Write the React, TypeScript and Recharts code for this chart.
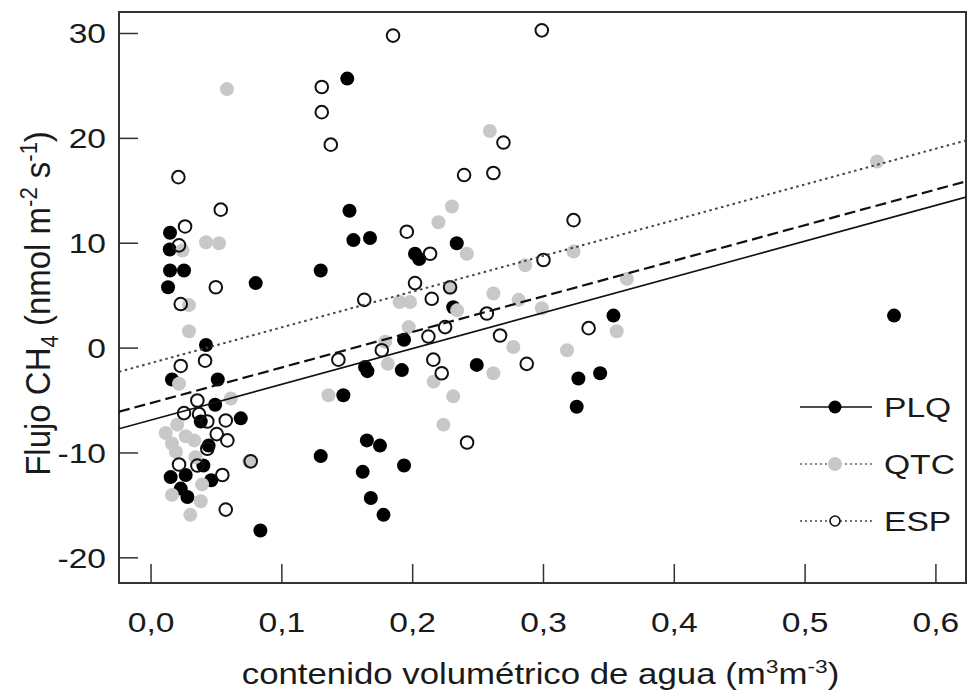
import React from 'react';
import { ScatterChart, Scatter, XAxis, YAxis, ReferenceArea } from 'recharts';

const FONT = '"Liberation Sans", Arial, Helvetica, sans-serif';
const SX = 1.2;

const xTicks = [0, 0.1, 0.2, 0.3, 0.4, 0.5, 0.6];
const yTicks = [-20, -10, 0, 10, 20, 30];
const xDomain: [number, number] = [-0.0245, 0.623];
const yDomain: [number, number] = [-22.4, 32.05];

const plqPoints: [number, number][] = [
  [0.150, 25.7], [0.0145, 11.0], [0.0143, 9.4], [0.0145, 7.4], [0.0252, 7.4], [0.013, 5.8],
  [0.080, 6.2], [0.042, 0.3], [0.016, -3.0], [0.051, -3.0], [0.049, -5.4], [0.0686, -6.7],
  [0.038, -7.0], [0.044, -9.3], [0.040, -11.2], [0.015, -12.3], [0.0265, -12.1], [0.046, -12.6],
  [0.0227, -13.4], [0.0278, -14.2], [0.0836, -17.4], [0.1517, 13.1], [0.1547, 10.3], [0.1674, 10.5],
  [0.1297, 7.4], [0.2018, 9.0], [0.205, 8.5], [0.2337, 10.0], [0.231, 3.9], [0.1934, 0.8],
  [0.1636, -1.8], [0.1654, -2.2], [0.1917, -2.1], [0.147, -4.5], [0.165, -8.8], [0.175, -9.3],
  [0.1297, -10.3], [0.1934, -11.2], [0.1618, -11.8], [0.168, -14.3], [0.1777, -15.9], [0.249, -1.6],
  [0.3535, 3.1], [0.3267, -2.9], [0.3433, -2.4], [0.3254, -5.6], [0.568, 3.1],
];

const qtcPoints: [number, number][] = [
  [0.058, 24.7], [0.042, 10.1], [0.052, 10.0], [0.024, 9.3], [0.029, 4.1], [0.029, 1.6],
  [0.0214, -3.4], [0.061, -4.8], [0.0112, -8.1], [0.02, -7.3], [0.016, -9.1], [0.0265, -8.4],
  [0.033, -8.8], [0.019, -9.9], [0.034, -10.4], [0.039, -13.0], [0.016, -14.0], [0.038, -14.6],
  [0.030, -15.9], [0.075, -10.8], [0.23, 13.5], [0.2197, 12.0], [0.19, 4.4], [0.198, 4.4],
  [0.197, 2.0], [0.2286, 5.7], [0.234, 3.6], [0.179, 0.6], [0.181, -1.5], [0.216, -3.2],
  [0.1356, -4.5], [0.231, -4.6], [0.2235, -7.3], [0.2414, 9.0], [0.2617, 5.2], [0.281, 4.6],
  [0.2987, 3.8], [0.323, 9.2], [0.286, 7.9], [0.277, 0.1], [0.318, -0.2], [0.356, 1.6],
  [0.3637, 6.6], [0.2617, -2.4], [0.259, 20.7], [0.555, 17.8],
];

const espPoints: [number, number][] = [
  [0.185, 29.8], [0.2987, 30.3], [0.1305, 24.9], [0.1305, 22.5], [0.1374, 19.4], [0.2694, 19.6],
  [0.2393, 16.5], [0.2617, 16.7], [0.0209, 16.3], [0.0533, 13.2], [0.026, 11.6], [0.0214, 9.8],
  [0.0495, 5.8], [0.0227, 4.2], [0.0227, -1.7], [0.0413, -1.2], [0.0354, -5.0], [0.0252, -6.2],
  [0.0367, -6.3], [0.043, -7.0], [0.0571, -6.9], [0.0502, -8.2], [0.0583, -8.8], [0.043, -9.6],
  [0.0214, -11.1], [0.0354, -11.2], [0.0545, -12.1], [0.0762, -10.8], [0.0571, -15.4], [0.1955, 11.1],
  [0.2133, 9.0], [0.2018, 6.2], [0.163, 4.6], [0.2146, 4.7], [0.2248, 2.0], [0.212, 1.1],
  [0.1764, -0.2], [0.1432, -1.1], [0.2158, -1.1], [0.2222, -2.4], [0.323, 12.2], [0.30, 8.4],
  [0.2286, 5.8], [0.2567, 3.3], [0.2668, 1.2], [0.3345, 1.9], [0.2872, -1.5], [0.2416, -9.0],
];

// regression lines: [x0, y0, x1, y1]
const fitSolid = [-0.0245, -7.7, 0.623, 14.4];
const fitDashed = [-0.0245, -6.07, 0.623, 15.9];
const fitDotted = [-0.0245, -2.26, 0.623, 19.8];

const seriesNames = ['PLQ', 'QTC', 'ESP'];

const toObjs = (pts: [number, number][]) => pts.map(([x, y]) => ({ x, y }));
const toSeg = (s: number[]) => [{ x: s[0], y: s[1] }, { x: s[2], y: s[3] }];

const fmt = (v: number) => v.toFixed(1).replace('.', ',');

const XTick = (props: any) => {
  const { x, y, payload } = props;
  return (
    <g>
      <line x1={x} y1={y} x2={x} y2={y - 19} stroke="#333" strokeWidth={1.5} />
      <text transform={`translate(${x},${y + 49}) scale(${SX},1)`} textAnchor="middle" fontSize={28} fontFamily={FONT} fill="#1a1a1a">
        {fmt(payload.value)}
      </text>
    </g>
  );
};

const YTick = (props: any) => {
  const { x, y, payload } = props;
  return (
    <g>
      <line x1={x} y1={y} x2={x + 19} y2={y} stroke="#333" strokeWidth={1.5} />
      <text transform={`translate(${x - 13},${y + 10}) scale(${SX},1)`} textAnchor="end" fontSize={28} fontFamily={FONT} fill="#1a1a1a">
        {String(payload.value)}
      </text>
    </g>
  );
};

const XLabel = (props: any) => {
  const vb = props.viewBox || { x: 119, y: 583, width: 847 };
  const cx = vb.x + vb.width / 2 - 2;
  return (
    <text transform={`translate(${cx},${vb.y + 101}) scale(${SX},1)`} textAnchor="middle" fontSize={29} fontFamily={FONT} fill="#1a1a1a">
      contenido volumétrico de agua (m<tspan dy={-11} fontSize={19}>3</tspan><tspan dy={11}>m</tspan><tspan dy={-11} fontSize={19}>-3</tspan><tspan dy={11}>)</tspan>
    </text>
  );
};

const YLabel = (props: any) => {
  const vb = props.viewBox || { x: 0, y: 12, height: 571 };
  const cy = vb.y + vb.height / 2 + 6;
  return (
    <text transform={`translate(50,${cy}) rotate(-90) scale(1,1.05)`} textAnchor="middle" fontSize={33} fontFamily={FONT} fill="#1a1a1a">
      Flujo CH<tspan dy={8} fontSize={22}>4</tspan><tspan dy={-8}> (nmol m</tspan><tspan dy={-12} fontSize={22}>-2</tspan><tspan dy={12}> s</tspan><tspan dy={-12} fontSize={22}>-1</tspan><tspan dy={12}>)</tspan>
    </text>
  );
};

const BlackDot = (p: any) => <circle cx={p.cx} cy={p.cy} r={7} fill="#000" />;
const GrayDot = (p: any) => <circle cx={p.cx} cy={p.cy} r={7} fill="#c8c8c8" />;
const OpenDot = (p: any) => <circle cx={p.cx} cy={p.cy} r={6.3} fill="none" stroke="#111" strokeWidth={2} />;
const NoDot = () => <g />;

const Legend = () => {
  const rows = [
    { y: 407, line: { stroke: '#111', strokeWidth: 1.6 }, marker: <circle cx={835} cy={407} r={6.5} fill="#000" /> },
    { y: 464, line: { stroke: '#666', strokeWidth: 1.6, strokeDasharray: '2 3' }, marker: <circle cx={835} cy={464} r={7} fill="#c8c8c8" /> },
    { y: 521, line: { stroke: '#444', strokeWidth: 1.6, strokeDasharray: '2 3' }, marker: <circle cx={835} cy={521} r={5} fill="#fff" stroke="#111" strokeWidth={1.6} /> },
  ];
  return (
    <svg width={967} height={696} style={{ position: 'absolute', left: 0, top: 0, pointerEvents: 'none' }}>
      {rows.map((r, i) => (
        <g key={i}>
          <line x1={800} y1={r.y} x2={872} y2={r.y} {...r.line} />
          {r.marker}
          <text transform={`translate(884,${r.y + 10}) scale(${SX},1)`} fontSize={28} fontFamily={FONT} fill="#1a1a1a">
            {seriesNames[i]}
          </text>
        </g>
      ))}
    </svg>
  );
};

export default function App() {
  return (
    <div style={{ position: 'absolute', left: 0, top: 0, width: 967, height: 696, background: '#fff' }}>
      <ScatterChart width={967} height={696} margin={{ top: 12, right: 1, bottom: 0, left: 0 }}>
        <XAxis
          type="number"
          dataKey="x"
          domain={xDomain}
          ticks={xTicks}
          allowDataOverflow
          height={113}
          axisLine={false}
          tickLine={false}
          tickSize={0}
          tickMargin={0}
          tick={<XTick />}
          label={<XLabel />}
        />
        <YAxis
          type="number"
          dataKey="y"
          domain={yDomain}
          ticks={yTicks}
          allowDataOverflow
          width={119}
          axisLine={false}
          tickLine={false}
          tickSize={0}
          tickMargin={0}
          tick={<YTick />}
          label={<YLabel />}
        />
        <ReferenceArea x1={xDomain[0]} x2={xDomain[1]} y1={yDomain[0]} y2={yDomain[1]} fill="none" stroke="#333" strokeWidth={2} ifOverflow="visible" />
        <Scatter name="PLQ" data={toObjs(plqPoints)} shape={<BlackDot />} isAnimationActive={false} />
        <Scatter name="QTC" data={toObjs(qtcPoints)} shape={<GrayDot />} isAnimationActive={false} />
        <Scatter name="ESP" data={toObjs(espPoints)} shape={<OpenDot />} isAnimationActive={false} />
        <Scatter data={toSeg(fitSolid)} line={{ stroke: '#111', strokeWidth: 1.6 }} shape={<NoDot />} isAnimationActive={false} />
        <Scatter data={toSeg(fitDashed)} line={{ stroke: '#111', strokeWidth: 2.2, strokeDasharray: '11 5' }} shape={<NoDot />} isAnimationActive={false} />
        <Scatter data={toSeg(fitDotted)} line={{ stroke: '#444', strokeWidth: 2, strokeDasharray: '2.5 3.5' }} shape={<NoDot />} isAnimationActive={false} />
      </ScatterChart>
      <Legend />
    </div>
  );
}
